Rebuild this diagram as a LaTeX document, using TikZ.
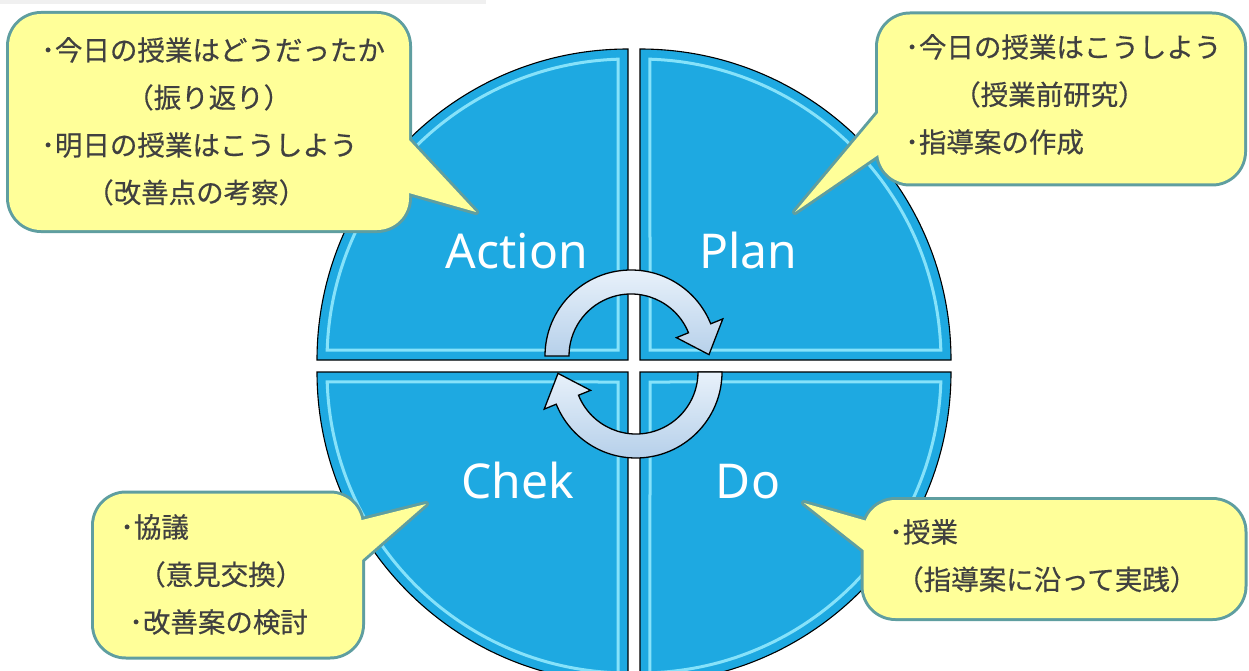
\documentclass[tikz,border=0pt]{standalone}
\usepackage{fontspec}
\setmainfont{Noto Sans}
\newfontfamily\jpfont[FakeBold=0.5]{Noto Sans CJK JP}
\usetikzlibrary{calc}

\definecolor{discblue}{HTML}{1EA9E1}
\definecolor{bevelblue}{HTML}{86E2FA}
\definecolor{arrowtop}{HTML}{E8F1FA}
\definecolor{arrowbot}{HTML}{B6D0EA}
\definecolor{notebg}{HTML}{FFFF99}
\definecolor{noteedge}{HTML}{5F9EA0}
\definecolor{inkgrey}{HTML}{404040}

% one quarter of the disc: corner, direction of its first straight edge
\newcommand{\quadrant}[2]{%
  \draw[quarter] (#1) -- ++(#2:311) arc[start angle=#2,delta angle=90,radius=311] -- cycle;
  \draw[bevel] ($(#1)+(#2+45:14.14)$) -- ($(#1)+(#2+1.9:301)$)
    arc[start angle=#2+1.9,end angle=#2+88.1,radius=301] -- cycle;}

% bent arrow round the centre: centre, tail angle, angle where the head starts
\newcommand{\cyclearrow}[3]{%
  \draw[turn] ($(#1)+(#2:86)$) arc[start angle=#2,end angle=#3,radius=86]
    -- ($(#1)+(#3:99)$) -- ($(#1)+(#3+21:78)$) -- ($(#1)+(#3:49)$)
    -- ($(#1)+(#3:62)$) arc[start angle=#3,end angle=#2,radius=62] -- cycle;}

% speech bubble on a box node: box, side, two offsets along that side, tip
\newcommand{\callout}[5]{%
  \coordinate (#1-a) at ($(#1.#2)+(0,#3)$);
  \coordinate (#1-b) at ($(#1.#2)+(0,#4)$);
  \path[noterim,rounded corners=32pt] (#1.south west) rectangle (#1.north east);
  \path[noterim] ($(#5)!1.5!(#1-a)$) -- (#5) -- ($(#5)!1.5!(#1-b)$) -- cycle;
  \path[noteface,rounded corners=32pt] (#1.south west) rectangle (#1.north east);
  \path[noteface] ($(#5)!1.5!(#1-a)$) -- (#5) -- ($(#5)!1.5!(#1-b)$) -- cycle;}

\begin{document}
\begin{tikzpicture}[x=1pt,y=-1pt,
  quarter/.style={fill=discblue,draw=black,line width=1.1pt},
  bevel/.style={draw=bevelblue,line width=3pt},
  turn/.style={draw=black,line width=1.3pt,top color=arrowtop,bottom color=arrowbot},
  steplabel/.style={text=white,font=\fontsize{48}{48}\selectfont,inner sep=0pt,anchor=base},
  notebox/.style={inner sep=0pt,outer sep=0pt},
  noterim/.style={draw=noteedge,line width=6pt,line join=round},
  noteface/.style={fill=notebg},
  notetext/.style={text=inkgrey,font=\jpfont\fontsize{27.5}{47.5}\selectfont,
    align=left,inner sep=0pt,anchor=north west}]
\useasboundingbox (0,0) rectangle (1249,671);
\clip (0,0) rectangle (1249,671);
\fill[black!6] (0,0) rectangle (486,4);

% the four quarters
\coordinate (actc) at (628,360);
\coordinate (planc) at (640,360);
\coordinate (doc) at (640,372);
\coordinate (chkc) at (628,372);
\quadrant{actc}{180}
\quadrant{planc}{270}
\quadrant{doc}{0}
\quadrant{chkc}{90}

% cycle arrows
\coordinate (topc) at (631,356);
\coordinate (botc) at (636,372);
\cyclearrow{topc}{180}{338}
\cyclearrow{botc}{0}{158}

\node[steplabel] (actlabel) at (517,268) {Action};
\node[steplabel] (planlabel) at (748,268) {Plan};
\node[steplabel] (chklabel) at (518,498) {Chek};
\node[steplabel] (dolabel) at (748,498) {Do};

% notes
\node[notebox,minimum width=400pt,minimum height=216pt] (actbox) at (209,122) {};
\node[notebox,minimum width=366pt,minimum height=169pt] (planbox) at (1061,99) {};
\node[notebox,minimum width=268pt,minimum height=163pt] (chkbox) at (228,575) {};
\node[notebox,minimum width=381pt,minimum height=118pt] (dobox) at (1054,559) {};
\coordinate (acttip) at (476,212);
\coordinate (plantip) at (795,212);
\coordinate (chktip) at (426,504);
\coordinate (dotip) at (804,503);
\callout{actbox}{east}{18}{71}{acttip}
\callout{planbox}{west}{14}{56}{plantip}
\callout{chkbox}{east}{-55}{-15}{chktip}
\callout{dobox}{west}{-39}{-9}{dotip}

\node[notetext] (acttext) at (41,37) {･今日の授業はどうだったか\\
  \hspace*{85pt}（振り返り）\\
  ･明日の授業はこうしよう\\
  \hspace*{45pt}（改善点の考察）};
\node[notetext] (plantext) at (905,34) {･今日の授業はこうしよう\\
  \hspace*{48pt}（授業前研究）\\
  ･指導案の作成};
\node[notetext] (chktext) at (120,514) {･協議\\
  \hspace*{18pt}（意見交換）\\
  \hspace*{9pt}･改善案の検討};
\node[notetext] (dotext) at (889,519) {･授業\\
  \hspace*{7pt}（指導案に沿って実践）};
\end{tikzpicture}
\end{document}
